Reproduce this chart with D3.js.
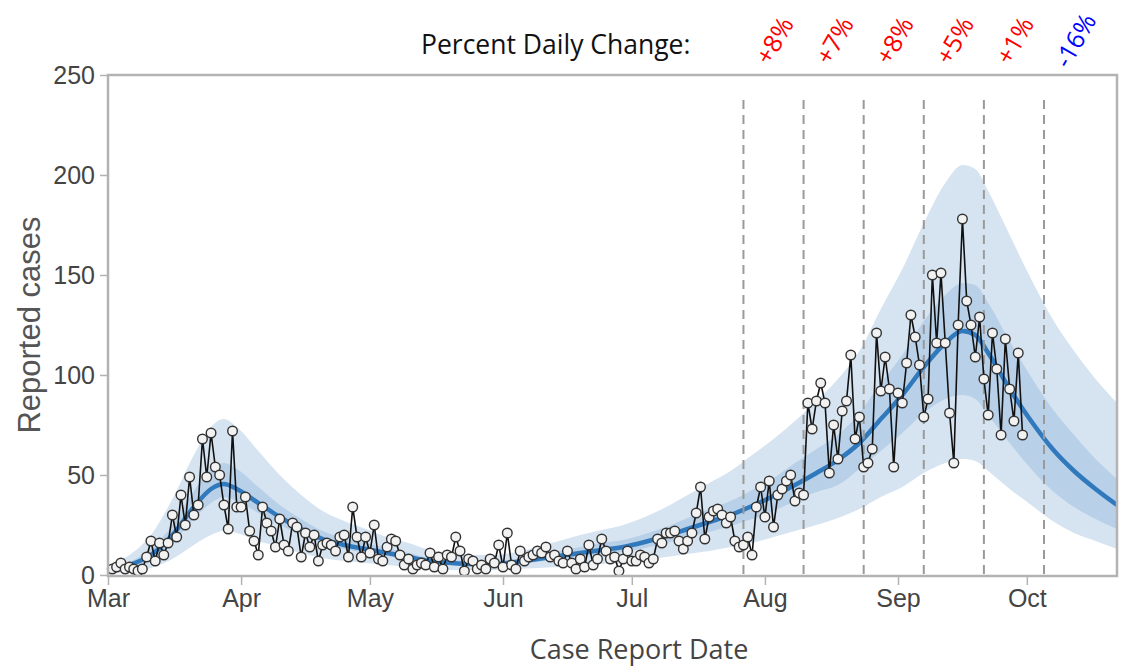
<!DOCTYPE html>
<html><head><meta charset="utf-8">
<script src="https://cdn.jsdelivr.net/npm/d3@7"></script>
<style>body{margin:0;background:#fff}svg{display:block}</style>
</head><body>
<svg id="chart" width="1122" height="666"></svg>
<script>
// ---------- DATA ----------
const firstCaseDate = "2020-03-02";
const dailyCases = [
  3,4,6,3,4,3,2,3,9,17,7,16,10,16,30,19,40,25,49,30,35,68,49,71,54,50,35,23,72,34,34,39,22,
  17,10,34,26,22,14,28,15,12,26,24,9,21,14,20,7,15,16,15,12,19,20,9,34,19,9,19,11,25,8,
  7,14,18,17,10,5,8,3,5,6,5,11,4,9,3,10,9,19,12,2,8,7,3,5,3,8,6,15,4,21,
  5,3,12,7,9,10,12,11,14,9,10,7,6,12,6,3,8,4,15,5,8,18,12,8,9,2,8,12,7,7,
  10,9,6,8,18,16,21,21,22,17,13,17,21,31,44,18,29,32,33,30,26,29,17,14,15,19,10,34,44,29,
  47,24,40,43,47,50,37,41,40,86,73,87,96,86,51,75,58,82,87,110,68,79,54,56,63,121,92,109,93,54,
  91,86,106,130,119,105,79,88,150,116,151,116,81,56,125,178,137,125,109,129,98,80,121,103,70,118,93,77,111,70
];
const fitDates = ["2020-03-01","2020-03-06","2020-03-11","2020-03-16","2020-03-21","2020-03-25","2020-03-28","2020-03-31",
  "2020-04-05","2020-04-10","2020-04-15","2020-04-20","2020-04-25","2020-04-30","2020-05-05","2020-05-10","2020-05-15",
  "2020-05-20","2020-05-25","2020-05-30","2020-06-04","2020-06-09","2020-06-14","2020-06-19","2020-06-24","2020-06-29",
  "2020-07-04","2020-07-09","2020-07-14","2020-07-19","2020-07-24","2020-07-29","2020-08-03","2020-08-08","2020-08-13",
  "2020-08-18","2020-08-23","2020-08-28","2020-09-02","2020-09-07","2020-09-12","2020-09-16","2020-09-19","2020-09-22",
  "2020-09-27","2020-10-02","2020-10-07","2020-10-12","2020-10-17","2020-10-22"];
const fitMedian = [2,5,10,20,34,43,45.5,43,36,29,23,18,15,13,11,9,7,6,5.5,5.5,6.5,8,9.5,11,12.5,14,16.5,19.5,23,26.5,30,34.5,39.5,45,51,57.5,66,78,90,104,116,122,120,111,93,77,63,52,43,35];
const fitLo50  = [1,3.5,7.5,16,28,36,39,37,31,25,20,15.5,13,11,9.5,7.5,6,5,4.5,4.5,5.5,6.5,8,9,10.5,11.5,13.5,16,19,21.5,24.5,28,32,37,41.5,45,53,62,71,81,88,90,88,80,66,53,42,34,28,23];
const fitHi50  = [3,6.5,13,25,42,53,56,53,44,35,28,22,18.5,16,13.5,11,8.5,7.5,7,7,8,10,12,14,16,17.5,20.5,24,28.5,33,37,42.5,48.5,56,63,70,81,96,110,127,140,146,145,136,117,99,83,70,58,48];
const fitLo90  = [0.5,1.5,3.5,8,15,20,22,21,17,14,11,8.5,7,6,5,4,3,2.5,2.5,2.5,3,3.5,4,5,5.5,6,7.5,9,10.5,12,14,16,19,22,25,28.5,33,39,44,51,56,58,57,52,43,35,27,21,17,13];
const fitHi90  = [5,10,20,38,60,74,78,74,62,50,40,32,27,23,19,16,12.5,11,10,10,11.5,14,17,20,22.5,25,29,34,40,46,52,60,68,77,87,98,112,133,153,176,196,205,203,192,170,148,128,112,98,86];
const periodBoundaries = ["2020-07-27","2020-08-10","2020-08-24","2020-09-07","2020-09-21","2020-10-05"];
const changeLabelDates = ["2020-08-03","2020-08-17","2020-08-31","2020-09-14","2020-09-28","2020-10-12"];
const changeLabels = ["+8%","+7%","+8%","+5%","+1%","-16%"];
const yTicks = [0,50,100,150,200,250];

// ---------- SETUP ----------
const parse = d3.utcParse("%Y-%m-%d");
const start = parse(firstCaseDate);
const cases = dailyCases.map((v,i)=>({date:d3.utcDay.offset(start,i), value:v}));
const fit = fitDates.map((d,i)=>({date:parse(d), med:fitMedian[i], lo50:fitLo50[i], hi50:fitHi50[i], lo90:fitLo90[i], hi90:fitHi90[i]}));

const L=108, R=1117, T=75, B=575;
const svg = d3.select("#chart");
const x = d3.scaleUtc().domain([Date.UTC(2020,2,1), Date.UTC(2020,9,22)]).range([L,R]);
const y = d3.scaleLinear().domain([0,250]).range([B,T]);

svg.append("defs").append("clipPath").attr("id","clip")
  .append("rect").attr("x",L).attr("y",T).attr("width",R-L).attr("height",B-T);

const plot = svg.append("g").attr("clip-path","url(#clip)");

const area = (lo,hi)=>d3.area().x(d=>x(d.date)).y0(d=>y(d[lo])).y1(d=>y(d[hi])).curve(d3.curveMonotoneX);
plot.append("path").datum(fit).attr("d",area("lo90","hi90")).attr("fill","#d6e4f1");
plot.append("path").datum(fit).attr("d",area("lo50","hi50")).attr("fill","#b8d0e8");
plot.append("path").datum(fit)
  .attr("d",d3.line().x(d=>x(d.date)).y(d=>y(d.med)).curve(d3.curveMonotoneX))
  .attr("fill","none").attr("stroke","#3179bd").attr("stroke-width",4.5);

// dashed period lines
svg.append("g").selectAll("line").data(periodBoundaries).join("line")
  .attr("x1",d=>x(parse(d))).attr("x2",d=>x(parse(d)))
  .attr("y1",100).attr("y2",B+3)
  .attr("stroke","#9a9a9a").attr("stroke-width",2).attr("stroke-dasharray","9,6");

// data line and points
svg.append("path").datum(cases)
  .attr("d",d3.line().x(d=>x(d.date)).y(d=>y(d.value)))
  .attr("fill","none").attr("stroke","#111").attr("stroke-width",1.6);
svg.append("g").selectAll("circle").data(cases).join("circle")
  .attr("cx",d=>x(d.date)).attr("cy",d=>y(d.value)).attr("r",4.8)
  .attr("fill","#f2f2f2").attr("stroke","#333").attr("stroke-width",1.4);

// frame
svg.append("rect").attr("x",L).attr("y",T).attr("width",R-L).attr("height",B-T+1)
  .attr("fill","none").attr("stroke","#b3b3b3").attr("stroke-width",2.5);

// axes
const yAxis = svg.append("g").attr("transform",`translate(${L-1},0)`)
  .call(d3.axisLeft(y).tickValues(yTicks).tickSize(7).tickPadding(5));
const xAxis = svg.append("g").attr("transform",`translate(0,${B+2})`)
  .call(d3.axisBottom(x).ticks(d3.utcMonth.every(1)).tickFormat(d3.utcFormat("%b")).tickSize(8).tickPadding(4));
[yAxis,xAxis].forEach(a=>{
  a.select(".domain").remove();
  a.selectAll(".tick line").attr("stroke","#b3b3b3").attr("stroke-width",1.5);
  a.selectAll(".tick text").attr("fill","#444").style("font-family","'Liberation Sans', Arial, sans-serif").style("font-size","25px");
});

// titles
svg.append("text").attr("transform",`translate(40,${(T+B)/2}) rotate(-90)`)
  .attr("text-anchor","middle").attr("fill","#555")
  .style("font-family","'Liberation Sans', Arial, sans-serif").style("font-size","31px").text("Reported cases");
svg.append("text").attr("x",639).attr("y",659).attr("text-anchor","middle").attr("fill","#444")
  .style("font-family","'Open Sans', 'Noto Sans', sans-serif").style("font-size","27px").text("Case Report Date");
svg.append("text").attr("x",421).attr("y",54).attr("fill","#111")
  .style("font-family","'Open Sans', 'Noto Sans', sans-serif").style("font-size","26.5px").text("Percent Daily Change:");

svg.append("g").selectAll("text").data(changeLabels).join("text")
  .attr("transform",(d,i)=>`translate(${x(parse(changeLabelDates[i]))},40) rotate(-60)`)
  .attr("text-anchor","middle").attr("dominant-baseline","central")
  .attr("fill",d=>d.startsWith("-")?"#0000ff":"#ff0000")
  .style("font-family","'Open Sans', 'Noto Sans', sans-serif").style("font-size","25px")
  .text(d=>d);
</script>
</body></html>
